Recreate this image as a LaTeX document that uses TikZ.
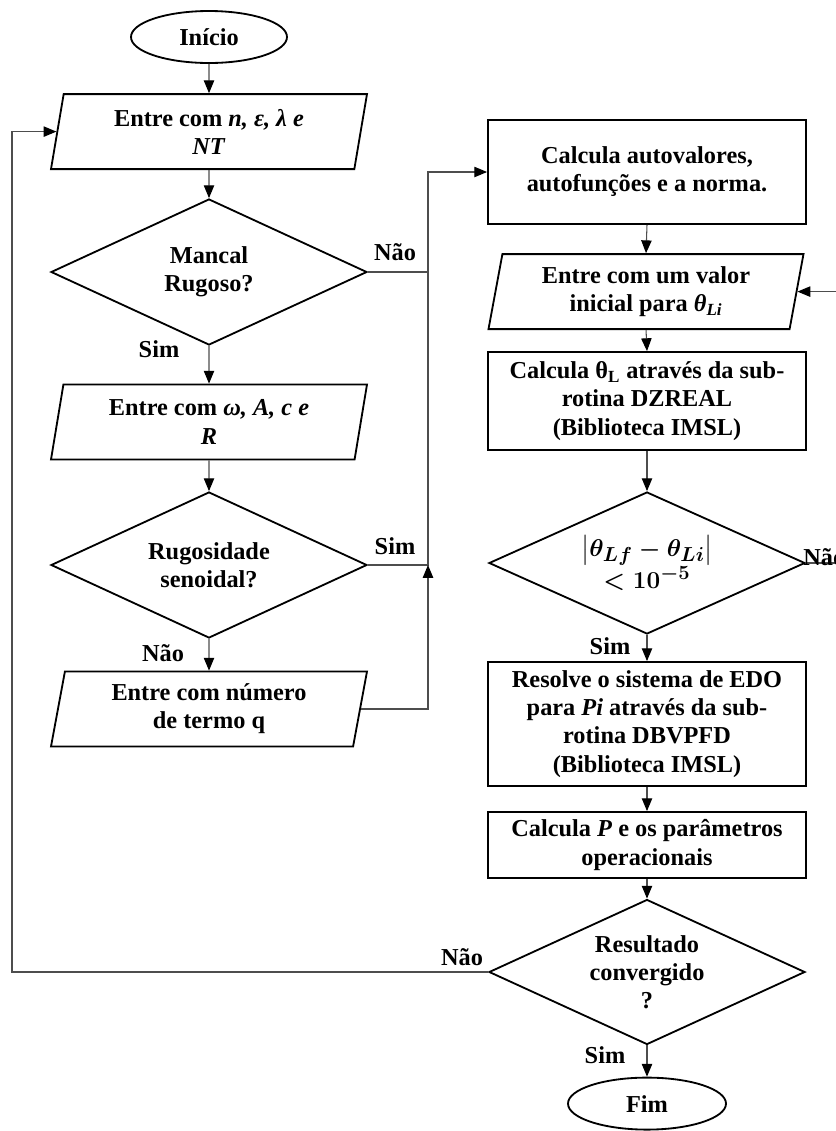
\documentclass[tikz,border=0pt]{standalone}
\usepackage{amsmath}
\usepackage{fontspec}
\setmainfont{Liberation Serif}
\usetikzlibrary{arrows.meta, shapes.geometric, calc}
\definecolor{fline}{HTML}{4D4D4D}
\tikzset{
  font=\fontsize{17.3}{20}\selectfont\bfseries,
  shapebase/.style={draw=black, line width=1.3pt, align=center, inner sep=2pt},
  termbox/.style={shapebase, ellipse, minimum width=#1, minimum height=1.3cm},
  termbox/.default=3.9cm,
  iobox/.style={
    shapebase, trapezium, trapezium left angle=76, trapezium right angle=104,
    trapezium stretches body, minimum width=#1, minimum height=1.875cm
  },
  iobox/.default=7.9cm,
  procbox/.style={shapebase, rectangle, minimum width=7.95cm, minimum height=#1},
  decbox/.style={shapebase, diamond, shape aspect=2.2, inner sep=0pt,
    minimum width=7.9cm, minimum height=#1},
  arr/.style={draw=fline, line width=0.75pt, -{Triangle[length=3.2mm,width=2.6mm,color=black]}},
  link/.style={draw=fline, line width=0.75pt},
  lab/.style={inner sep=0pt}
}
\begin{document}
\begin{tikzpicture}
  \useasboundingbox (0,0) rectangle (20.9,-28.275);

  \node[termbox] (inicio) at (5.225,-0.925) {Início};
  \node[iobox] (in1) at (5.225,-3.29) {Entre com \textit{n, ε, λ e}\\\textit{NT}};
  \node[decbox=3.65cm] (mancal) at (5.225,-6.8) {Mancal\\Rugoso?};
  \node[iobox] (in2) at (5.225,-10.55) {Entre com \textit{ω, A, c e}\\\textit{R}};
  \node[decbox=3.65cm] (senoidal) at (5.225,-14.125) {Rugosidade\\senoidal?};
  \node[iobox] (in3) at (5.225,-17.725) {Entre com número\\de termo q};

  \node[procbox=2.6cm] (autoval) at (16.175,-4.3) {Calcula autovalores,\\autofunções e a norma.};
  \node[iobox=7.875cm] (tetai) at (16.15,-7.29) {Entre com um valor\\inicial para \textit{θ\textsubscript{Li}}};
  \node[procbox=2.45cm] (dzreal) at (16.175,-10.025) {Calcula θ\textsubscript{L} através da sub-\\rotina DZREAL\\(Biblioteca IMSL)};
  \node[decbox=3.55cm, font=\fontsize{19}{23}\selectfont\boldmath] (erro) at (16.175,-14.075)
    {$\bigl|\theta_{Lf}-\theta_{Li}\bigr|$\\$<10^{-5}$};
  \node[procbox=3.1cm] (resolve) at (16.175,-18.1) {Resolve o sistema de EDO\\para \textit{Pi} através da sub-\\rotina DBVPFD\\(Biblioteca IMSL)};
  \node[procbox=1.65cm] (calcp) at (16.175,-21.125) {Calcula \textit{P} e os parâmetros\\operacionais};
  \node[decbox=3.625cm] (conv) at (16.175,-24.3) {Resultado\\convergido\\?};
  \node[termbox=3.95cm] (fim) at (16.175,-27.59) {Fim};

  \coordinate (busx) at (10.7,0);
  \coordinate (loopx) at (0.3,0);
  \coordinate (backx) at (21.3,0);

  \foreach \a/\b in {inicio/in1, in1/mancal, mancal/in2, in2/senoidal, senoidal/in3,
    autoval/tetai, tetai/dzreal, dzreal/erro, erro/resolve, resolve/calcp, calcp/conv, conv/fim}
    \draw[arr] (\a.south) -- (\b.north);

  \draw[arr] (mancal.east) -- (mancal.east -| busx) |- (autoval.west);
  \draw[link] (senoidal.east) -- (senoidal.east -| busx) -- (mancal.east -| busx);
  \draw[arr] (in3.east) -| (senoidal.east -| busx);
  \draw[arr] (conv.west) -| (loopx |- in1.west) -- (in1.west);
  \draw[arr] (erro.east) -| (backx |- tetai.east) -- (tetai.east);

  \node[lab] (naoA) at (9.875,-6.3) {Não};
  \node[lab] (simA) at (3.975,-8.725) {Sim};
  \node[lab] (simB) at (9.875,-13.65) {Sim};
  \node[lab] (naoB) at (4.075,-16.325) {Não};
  \node[lab, anchor=west] (naoC) at (20.075,-13.925) {Não};
  \node[lab] (simC) at (15.25,-16.15) {Sim};
  \node[lab] (naoD) at (11.55,-23.925) {Não};
  \node[lab] (simD) at (15.125,-26.375) {Sim};
\end{tikzpicture}
\end{document}
